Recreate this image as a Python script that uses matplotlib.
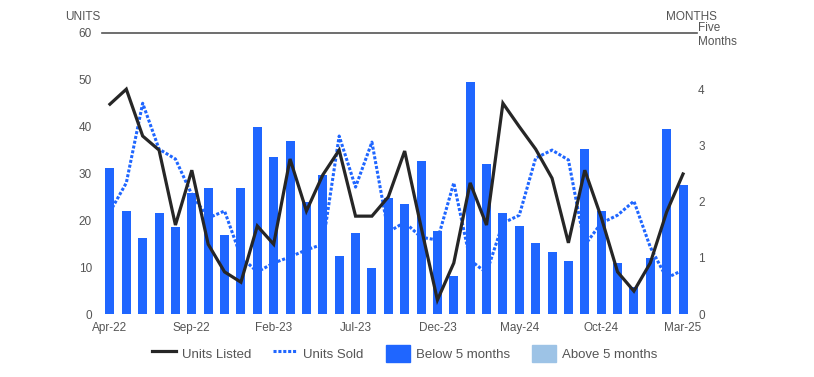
import numpy as np
import pandas as pd
import matplotlib

matplotlib.use("Agg")
import matplotlib.pyplot as plt
from matplotlib.lines import Line2D
from matplotlib.patches import Patch

plt.rcParams["font.family"] = ["Liberation Sans", "DejaVu Sans"]

# monthly categories Apr-22 .. Mar-25
months = list(pd.date_range("2022-04-01", periods=36, freq="MS").strftime("%b-%y"))
tick_labels = ["Apr-22", "Sep-22", "Feb-23", "Jul-23", "Dec-23", "May-24", "Oct-24", "Mar-25"]

units_listed = [44.8, 48.0, 38.0, 35.0, 19.0, 30.7, 14.9, 9.0, 6.8, 18.8, 14.9, 33.1,
                22.0, 29.7, 35.0, 20.9, 20.9, 25.0, 34.8, 18.6, 3.0, 10.9, 28.0, 19.0,
                45.0, 40.0, 35.2, 29.0, 15.2, 30.7, 20.7, 9.0, 4.9, 10.9, 21.8, 29.9]
units_sold = [21.8, 28.0, 45.0, 35.2, 33.1, 25.5, 20.5, 22.0, 12.2, 9.0, 10.9, 12.2,
              13.7, 14.9, 38.0, 27.1, 36.7, 17.5, 19.6, 16.4, 15.8, 28.0, 11.5, 8.8,
              19.4, 21.1, 33.3, 35.0, 32.9, 14.7, 19.4, 21.1, 24.1, 14.3, 7.7, 9.4]
months_supply = [2.60, 1.83, 1.35, 1.80, 1.55, 2.15, 2.24, 1.40, 2.24, 3.32, 2.79, 3.07,
                 1.99, 2.47, 1.03, 1.44, 0.82, 2.06, 1.96, 2.72, 1.48, 0.68, 4.12, 2.67,
                 1.80, 1.56, 1.26, 1.10, 0.94, 2.93, 1.83, 0.91, 0.48, 1.00, 3.29, 2.29]

THRESH = 5
C_BELOW = "#1F66FF"
C_ABOVE = "#9DC3E6"
C_LIST = "#262626"
C_TEXT = "#555555"

x = np.arange(len(months))

fig = plt.figure(figsize=(8.14, 3.77), dpi=100)
ax = fig.add_axes([0.125, 0.167, 0.731, 0.7455])   # units (left), lines
axm = ax.twinx()                                    # months (right), bars

bar_colors = [C_BELOW if v < THRESH else C_ABOVE for v in months_supply]
axm.bar(x, months_supply, width=0.55, color=bar_colors, zorder=2)
axm.set_ylim(0, 5)
axm.set_yticks([0, 1, 2, 3, 4, 5])
axm.set_yticklabels(["0", "1", "2", "3", "4", "Five\nMonths"])

ax.plot(x, units_listed, color=C_LIST, lw=2.3, zorder=4, solid_joinstyle="miter")
ax.plot(x, units_sold, color=C_BELOW, lw=2.2, ls=(0, (1.0, 0.6)), zorder=3)
ax.axhline(60, color="#555555", lw=1.2, zorder=5, clip_on=False)
ax.set_ylim(0, 60)
ax.set_yticks([0, 10, 20, 30, 40, 50, 60])

ax.set_zorder(axm.get_zorder() + 1)
ax.patch.set_visible(False)

ax.set_xlim(-0.5, 35.84)
ax.set_xticks([months.index(t) for t in tick_labels])
ax.set_xticklabels(tick_labels)

for a in (ax, axm):
    for s in a.spines.values():
        s.set_visible(False)
    a.tick_params(length=0, labelsize=8.5, colors=C_TEXT)
ax.tick_params(axis="y", pad=7)
ax.tick_params(axis="x", pad=6)
axm.tick_params(axis="y", pad=1)

fig.text(0.08, 0.955, "UNITS", ha="left", va="center", fontsize=8.5, color=C_TEXT)
fig.text(0.85, 0.955, "MONTHS", ha="center", va="center", fontsize=8.5, color=C_TEXT)

handles = [
    Line2D([], [], color=C_LIST, lw=2.3),
    Line2D([], [], color=C_BELOW, lw=2.2, ls=(0, (1.0, 0.6))),
    Patch(color=C_BELOW),
    Patch(color=C_ABOVE),
]
labels = ["Units Listed", "Units Sold", "Below 5 months", "Above 5 months"]
fig.legend(handles, labels, loc="center", bbox_to_anchor=(0.497, 0.063), ncol=4,
           frameon=False, fontsize=9.5, labelcolor=C_TEXT, handlelength=1.8,
           handleheight=1.6, columnspacing=1.7, handletextpad=0.45)

fig.savefig("out.png", dpi=100)
